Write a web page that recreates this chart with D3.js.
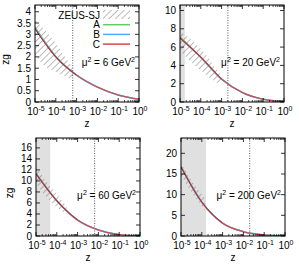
<!DOCTYPE html>
<html>
<head>
<meta charset="utf-8">
<script src="https://cdn.jsdelivr.net/npm/d3@7"></script>
<style>
  body { margin:0; background:#fff; }
  text { font-family: "Liberation Sans", Arial, sans-serif; }
</style>
</head>
<body>
<svg id="chart" width="299" height="267"></svg>
<script>
// data
var zPts = [1e-5, 1e-4, 1e-3, 1e-2, 1e-1, 1];
var mu2 = [6, 20, 60, 200];
var yMax = [4.3, 10.6, 17.8, 23.7];
var yTicks = [
  [0, 0.5, 1, 1.5, 2, 2.5, 3, 3.5, 4],
  [0, 2, 4, 6, 8, 10],
  [0, 2, 4, 6, 8, 10, 12, 14, 16],
  [0, 5, 10, 15, 20]
];
var xTicks = [1e-5, 1e-4, 1e-3, 1e-2, 1e-1, 1];
var grayMax = [null, 1.7e-5, 4.8e-5, 1.6e-4];   // shaded low-z region
var zLine = [6.5e-4, 2e-3, 6.6e-3, 2e-2];       // dotted vertical line

// fits A, B, C at zPts
var fitA = [
  [3.32, 2.02, 1.19, 0.66, 0.31, 0.12],
  [7.1, 4.9, 2.5, 1.03, 0.3, 0.04],
  [11.4, 6.4, 2.9, 1.1, 0.25, 0.02],
  [16.9, 8.2, 3.1, 1.05, 0.25, 0.01]
];
var fitB = [
  [3.28, 2.0, 1.19, 0.66, 0.31, 0.12],
  [7.0, 4.9, 2.5, 1.03, 0.3, 0.04],
  [11.3, 6.4, 2.9, 1.1, 0.25, 0.02],
  [16.7, 8.2, 3.1, 1.05, 0.25, 0.01]
];
var fitC = [
  [3.25, 2.0, 1.19, 0.66, 0.31, 0.12],
  [7.0, 4.9, 2.5, 1.03, 0.3, 0.04],
  [11.3, 6.4, 2.9, 1.1, 0.25, 0.02],
  [16.7, 8.2, 3.1, 1.05, 0.25, 0.01]
];

// ZEUS-SJ band
var bandZ = [
  [1e-5, 3e-5, 1e-4, 3e-4, 7e-4],
  [1e-5, 4e-5, 2e-4, 6e-4, 1e-3],
  [1e-5, 3e-5, 1e-4, 3e-4],
  [1e-5, 3e-5, 8e-5, 1.4e-4]
];
var bandLo = [
  [2.1, 1.58, 1.33, 1.12, 1.0],
  [5.6, 4.2, 2.9, 2.1, 1.9],
  [9.6, 7.2, 5.2, 3.9],
  [14.7, 10.8, 7.9, 6.3]
];
var bandHi = [
  [3.65, 3.18, 2.6, 1.95, 1.5],
  [7.7, 6.7, 5.0, 3.5, 2.9],
  [12.6, 10.0, 7.6, 5.4],
  [17.7, 13.6, 10.7, 9.2]
];

var svg = d3.select("#chart");
var defs = svg.append("defs");
var pat = defs.append("pattern")
    .attr("id", "hatch")
    .attr("patternUnits", "userSpaceOnUse")
    .attr("width", 4.5).attr("height", 4.5)
    .attr("patternTransform", "rotate(45)");
pat.append("line")
    .attr("x1", 0).attr("y1", 0).attr("x2", 0).attr("y2", 4.5)
    .attr("stroke", "#777").attr("stroke-width", 1);

var cols = { A: "#66cc66", B: "#55a8ff", C: "#e04545" };

// panel boxes
var boxes = [
  { x0: 35, x1: 139, y0: 5, y1: 102 },
  { x0: 180, x1: 284, y0: 5, y1: 102 },
  { x0: 36, x1: 140, y0: 138, y1: 236 },
  { x0: 181, x1: 285, y0: 138, y1: 236 }
];

function superTick(sel, base, exp) {
  sel.append("tspan").text(base);
  sel.append("tspan").attr("dy", -4).attr("font-size", 7).text(exp);
}

boxes.forEach(function(b, p) {
  var x = d3.scaleLog().domain([1e-5, 1]).range([b.x0, b.x1]);
  var y = d3.scaleLinear().domain([0, yMax[p]]).range([b.y1, b.y0]);
  var g = svg.append("g");
  var clipId = "clip" + p;
  defs.append("clipPath").attr("id", clipId)
    .append("rect").attr("x", b.x0).attr("y", b.y0)
    .attr("width", b.x1 - b.x0).attr("height", b.y1 - b.y0);

  // shaded region
  if (grayMax[p]) {
    g.append("rect")
      .attr("x", x(1e-5)).attr("y", b.y0)
      .attr("width", x(grayMax[p]) - x(1e-5))
      .attr("height", b.y1 - b.y0)
      .attr("fill", "#e0e0e0");
  }

  // dotted line
  g.append("line")
    .attr("x1", x(zLine[p])).attr("x2", x(zLine[p]))
    .attr("y1", b.y0).attr("y2", b.y1)
    .attr("stroke", "#333").attr("stroke-width", 0.8)
    .attr("stroke-dasharray", "1,1.5");

  // band
  var bd = bandZ[p].map(function(z, i) { return { z: z, lo: bandLo[p][i], hi: bandHi[p][i] }; });
  var area = d3.area()
    .x(function(d) { return x(d.z); })
    .y0(function(d) { return y(d.lo); })
    .y1(function(d) { return y(d.hi); })
    .curve(d3.curveMonotoneX);
  g.append("path").datum(bd)
    .attr("d", area)
    .attr("fill", "url(#hatch)")
    .attr("clip-path", "url(#" + clipId + ")");

  // fits
  var line = d3.line()
    .x(function(d) { return x(d[0]); })
    .y(function(d) { return y(d[1]); })
    .curve(d3.curveMonotoneX);
  [["A", fitA], ["B", fitB], ["C", fitC]].forEach(function(f) {
    var pts = zPts.map(function(z, i) { return [z, f[1][p][i]]; });
    g.append("path").datum(pts)
      .attr("d", line)
      .attr("fill", "none")
      .attr("stroke", cols[f[0]])
      .attr("stroke-width", f[0] == "C" ? 1.1 : 1.5)
      .attr("clip-path", "url(#" + clipId + ")");
  });
  // darker core where curves overlap the band
  var core = zPts.filter(function(z) { return z <= 1e-3; })
    .map(function(z, i) { return [z, fitC[p][i]]; });
  g.append("path").datum(core)
    .attr("d", line)
    .attr("fill", "none")
    .attr("stroke", "#8b1a1a")
    .attr("stroke-width", 0.8)
    .attr("stroke-opacity", 0.7)
    .attr("clip-path", "url(#" + clipId + ")");

  // frame
  g.append("rect")
    .attr("x", b.x0).attr("y", b.y0)
    .attr("width", b.x1 - b.x0).attr("height", b.y1 - b.y0)
    .attr("fill", "none").attr("stroke", "#000").attr("stroke-width", 1);

  // x ticks: major + minor, bottom and top
  var minors = [];
  for (var e = -5; e < 0; e++)
    for (var m = 2; m <= 9; m++) minors.push(m * Math.pow(10, e));
  xTicks.forEach(function(t) {
    g.append("line").attr("x1", x(t)).attr("x2", x(t))
      .attr("y1", b.y1).attr("y2", b.y1 - 4).attr("stroke", "#000").attr("stroke-width", 0.8);
    g.append("line").attr("x1", x(t)).attr("x2", x(t))
      .attr("y1", b.y0).attr("y2", b.y0 + 4).attr("stroke", "#000").attr("stroke-width", 0.8);
  });
  minors.forEach(function(t) {
    g.append("line").attr("x1", x(t)).attr("x2", x(t))
      .attr("y1", b.y1).attr("y2", b.y1 - 2).attr("stroke", "#000").attr("stroke-width", 0.7);
    g.append("line").attr("x1", x(t)).attr("x2", x(t))
      .attr("y1", b.y0).attr("y2", b.y0 + 2).attr("stroke", "#000").attr("stroke-width", 0.7);
  });
  xTicks.forEach(function(t) {
    var ex = Math.round(Math.log10(t));
    var tx = g.append("text")
      .attr("x", x(t) + 1).attr("y", b.y1 + 13)
      .attr("text-anchor", "middle").attr("font-size", 10);
    superTick(tx, "10", ex == 0 ? "0" : "-" + (-ex));
  });

  // y ticks
  yTicks[p].forEach(function(t) {
    g.append("line").attr("x1", b.x0).attr("x2", b.x0 + 4)
      .attr("y1", y(t)).attr("y2", y(t)).attr("stroke", "#000").attr("stroke-width", 0.8);
    g.append("line").attr("x1", b.x1).attr("x2", b.x1 - 4)
      .attr("y1", y(t)).attr("y2", y(t)).attr("stroke", "#000").attr("stroke-width", 0.8);
    g.append("text")
      .attr("x", b.x0 - 4).attr("y", y(t) + 3.5)
      .attr("text-anchor", "end").attr("font-size", 10)
      .text(t);
  });

  // axis labels
  g.append("text")
    .attr("x", (b.x0 + b.x1) / 2).attr("y", b.y1 + 25)
    .attr("text-anchor", "middle").attr("font-size", 10).text("z");
  if (p % 2 == 0) {
    var lx = p == 0 ? 9 : 13;
    g.append("text")
      .attr("transform", "translate(" + lx + "," + ((b.y0 + b.y1) / 2 + 6) + ") rotate(-90)")
      .attr("text-anchor", "middle").attr("font-size", 10).text("zg");
  }

  // mu^2 label
  var mt = g.append("text")
    .attr("x", b.x1 - 4).attr("y", b.y0 + 61)
    .attr("text-anchor", "end").attr("font-size", 10);
  mt.append("tspan").text("\u03bc");
  mt.append("tspan").attr("dy", -4).attr("font-size", 7).text("2");
  mt.append("tspan").attr("dy", 4).text(" = " + mu2[p] + " GeV");
  mt.append("tspan").attr("dy", -4).attr("font-size", 7).text("2");

  // legend in first panel
  if (p == 0) {
    var leg = [["ZEUS-SJ", null], ["A", cols.A], ["B", cols.B], ["C", cols.C]];
    leg.forEach(function(l, i) {
      var ly = 15 + i * 9.7;
      g.append("text").attr("x", 100).attr("y", ly + 3.5)
        .attr("text-anchor", "end").attr("font-size", 10).text(l[0]);
      if (l[1]) {
        g.append("line").attr("x1", 103).attr("x2", 130)
          .attr("y1", ly).attr("y2", ly)
          .attr("stroke", l[1]).attr("stroke-width", 1.5);
      } else {
        g.append("rect").attr("x", 103).attr("y", ly - 5)
          .attr("width", 27).attr("height", 9)
          .attr("fill", "url(#hatch)");
      }
    });
  }
});
</script>
</body>
</html>
